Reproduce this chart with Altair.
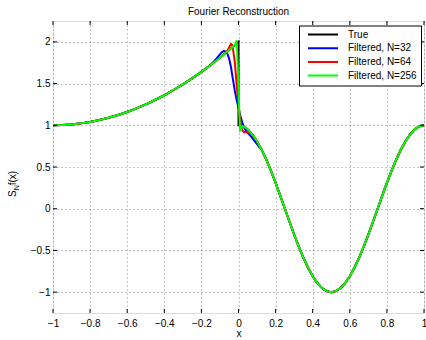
import altair as alt
import pandas as pd

SERIES = ["True", "Filtered, N=32", "Filtered, N=64", "Filtered, N=256"]
COLORS = ["#000000", "#0000ff", "#ff0000", "#00ff00"]

# True function (left branch up to the jump at x=0)
TRUE_X_LEFT = [-1.0, -0.95, -0.9, -0.85, -0.8, -0.75, -0.7, -0.65, -0.6, -0.55,
               -0.5, -0.45, -0.4, -0.35, -0.3, -0.25, -0.2, -0.15, -0.1, -0.05,
               -0.04, -0.03, -0.02, -0.01, 0.0]
TRUE_Y_LEFT = [1.000, 1.003, 1.010, 1.023, 1.040, 1.063, 1.090, 1.123, 1.160, 1.203,
               1.250, 1.303, 1.360, 1.423, 1.490, 1.563, 1.640, 1.723, 1.810, 1.903,
               1.922, 1.941, 1.960, 1.980, 2.000]
# right branch after the jump
TRUE_X_RIGHT = [0.0, 0.01, 0.02, 0.03, 0.04, 0.05, 0.075, 0.1, 0.125, 0.15, 0.175,
                0.2, 0.225, 0.25, 0.275, 0.3, 0.325, 0.35, 0.375, 0.4, 0.425, 0.45,
                0.475, 0.5, 0.525, 0.55, 0.575, 0.6, 0.625, 0.65, 0.675, 0.7, 0.725,
                0.75, 0.775, 0.8, 0.825, 0.85, 0.875, 0.9, 0.925, 0.95, 0.975, 1.0]
TRUE_Y_RIGHT = [1.000, 0.998, 0.992, 0.982, 0.969, 0.951, 0.891, 0.809, 0.707, 0.588, 0.454,
                0.309, 0.156, 0.000, -0.156, -0.309, -0.454, -0.588, -0.707, -0.809, -0.891, -0.951,
                -0.988, -1.000, -0.988, -0.951, -0.891, -0.809, -0.707, -0.588, -0.454, -0.309, -0.156,
                0.000, 0.156, 0.309, 0.454, 0.588, 0.707, 0.809, 0.891, 0.951, 0.988, 1.000]

# Filtered reconstructions near the jump (elsewhere they follow the true curve)
N32_X = [-0.16, -0.14, -0.12, -0.1, -0.09, -0.08, -0.07, -0.06, -0.05, -0.04, -0.03,
         -0.02, -0.01, 0.0, 0.01, 0.02, 0.03, 0.04, 0.05, 0.06, 0.07, 0.08, 0.09,
         0.1, 0.11, 0.12]
N32_Y = [1.706, 1.748, 1.795, 1.850, 1.874, 1.890, 1.886, 1.858, 1.796, 1.690, 1.550,
         1.415, 1.305, 1.210, 1.115, 1.035, 0.975, 0.935, 0.910, 0.885, 0.860, 0.830, 0.800,
         0.775, 0.745, 0.722]

N64_X = [-0.08, -0.07, -0.06, -0.05, -0.045, -0.04, -0.035, -0.03, -0.02, -0.01, 0.0,
         0.01, 0.02, 0.03, 0.04, 0.05, 0.06, 0.07]
N64_Y = [1.846, 1.868, 1.895, 1.935, 1.960, 1.975, 1.965, 1.920, 1.760, 1.490, 1.240,
         1.050, 0.945, 0.915, 0.920, 0.925, 0.920, 0.901]

N256_X = [-0.03, -0.02, -0.015, -0.01, -0.005, 0.0, 0.004, 0.008, 0.012, 0.016, 0.02, 0.03]
N256_Y = [1.941, 1.962, 1.985, 2.020, 1.770, 1.480, 1.180, 0.935, 0.940, 0.965, 0.990, 0.982]

XTICKS = [-1.0, -0.8, -0.6, -0.4, -0.2, 0.0, 0.2, 0.4, 0.6, 0.8, 1.0]
YTICKS = [-1.0, -0.5, 0.0, 0.5, 1.0, 1.5, 2.0]

rows = []


def add(name, xs, ys):
    for i, (x, y) in enumerate(zip(xs, ys)):
        rows.append({"series": name, "x": x, "y": y, "idx": i})


add("True", TRUE_X_LEFT + TRUE_X_RIGHT, TRUE_Y_LEFT + TRUE_Y_RIGHT)
for name, sx, sy in [("Filtered, N=32", N32_X, N32_Y),
                     ("Filtered, N=64", N64_X, N64_Y),
                     ("Filtered, N=256", N256_X, N256_Y)]:
    lx = [x for x in TRUE_X_LEFT if x < sx[0]]
    ly = [y for x, y in zip(TRUE_X_LEFT, TRUE_Y_LEFT) if x < sx[0]]
    rx = [x for x in TRUE_X_RIGHT if x > sx[-1]]
    ry = [y for x, y in zip(TRUE_X_RIGHT, TRUE_Y_RIGHT) if x > sx[-1]]
    add(name, lx + sx + rx, ly + sy + ry)

df = pd.DataFrame(rows)

W, H = 371, 292
FONT = "Liberation Sans"

xscale = alt.Scale(domain=[-1, 1], nice=False, zero=False)
yscale = alt.Scale(domain=[-1.25, 2.25], nice=False, zero=False)

legend = alt.Legend(
    title=None, orient="none", legendX=246, legendY=4.5,
    symbolType="stroke", symbolSize=900, symbolStrokeWidth=2,
    clipHeight=10, rowPadding=3.7, padding=4, symbolOffset=4, labelOffset=9,
    strokeColor="black", fillColor="white",
    labelFont=FONT, labelFontSize=10, labelColor="black",
)

color = alt.Color("series:N", scale=alt.Scale(domain=SERIES, range=COLORS), legend=legend)

xaxis = alt.Axis(values=XTICKS, format="~g", ticks=False, domain=False, labelPadding=5,
                 labelOverlap=False, labelBound=False, labelFlush=False,
                 grid=True, gridDash=[1, 3], gridColor="#8a8a8a", gridOpacity=1,
                 title="x", titleFont=FONT, titleFontSize=10, titleFontWeight="normal",
                 titleColor="black", titlePadding=0,
                 labelFont=FONT, labelFontSize=10, labelColor="black")
yaxis = alt.Axis(values=YTICKS, format="~g", ticks=False, domain=False, labelPadding=3,
                 labelOverlap=False, labelBound=False, labelFlush=False,
                 grid=True, gridDash=[1, 3], gridColor="#8a8a8a", gridOpacity=1,
                 title="", labelFont=FONT, labelFontSize=10, labelColor="black")

layers = []
for name in SERIES:
    layers.append(
        alt.Chart(df).transform_filter(alt.datum.series == name)
        .mark_line(strokeWidth=2)
        .encode(
            x=alt.X("x:Q", scale=xscale, axis=xaxis, title="x"),
            y=alt.Y("y:Q", scale=yscale, axis=yaxis, title=""),
            color=color,
            order=alt.Order("idx:Q"),
        )
    )

xt = pd.DataFrame({"x": XTICKS})
yt = pd.DataFrame({"y": YTICKS})
tick_style = dict(color="black", strokeWidth=1)
xt_enc = alt.X("x:Q", scale=xscale, axis=xaxis, title="x")
yt_enc = alt.Y("y:Q", scale=yscale, axis=yaxis, title="")
ticks = [
    alt.Chart(xt).mark_rule(**tick_style).encode(x=xt_enc, y=alt.value(H), y2=alt.value(H - 4)),
    alt.Chart(xt).mark_rule(**tick_style).encode(x=xt_enc, y=alt.value(0), y2=alt.value(4)),
    alt.Chart(yt).mark_rule(**tick_style).encode(y=yt_enc, x=alt.value(0), x2=alt.value(4)),
    alt.Chart(yt).mark_rule(**tick_style).encode(y=yt_enc, x=alt.value(W), x2=alt.value(W - 4)),
]

one = pd.DataFrame({"a": [0]})
ylab = [
    alt.Chart(one).mark_text(text="S", angle=270, align="left", baseline="alphabetic",
                             font=FONT, fontSize=10, color="black")
    .encode(x=alt.value(-37.5), y=alt.value(176)),
    alt.Chart(one).mark_text(text="N", angle=270, align="left", baseline="alphabetic",
                             font=FONT, fontSize=7, color="black")
    .encode(x=alt.value(-34), y=alt.value(169.3)),
    alt.Chart(one).mark_text(text="f(x)", angle=270, align="left", baseline="alphabetic",
                             font=FONT, fontSize=10, color="black")
    .encode(x=alt.value(-37.5), y=alt.value(164.3)),
]

chart = alt.layer(*layers, *ticks, *ylab).properties(
    width=W, height=H,
    title=alt.TitleParams("Fourier Reconstruction", font=FONT, fontSize=10,
                          fontWeight="normal", color="black", offset=3.5),
    autosize=alt.AutoSizeParams(type="none"),
    padding={"left": 53, "top": 21, "right": 2, "bottom": 27},
).configure_view(stroke="black", strokeWidth=1).configure(background="white")

chart.save("out.html", embed_options={"renderer": "svg", "actions": False})
